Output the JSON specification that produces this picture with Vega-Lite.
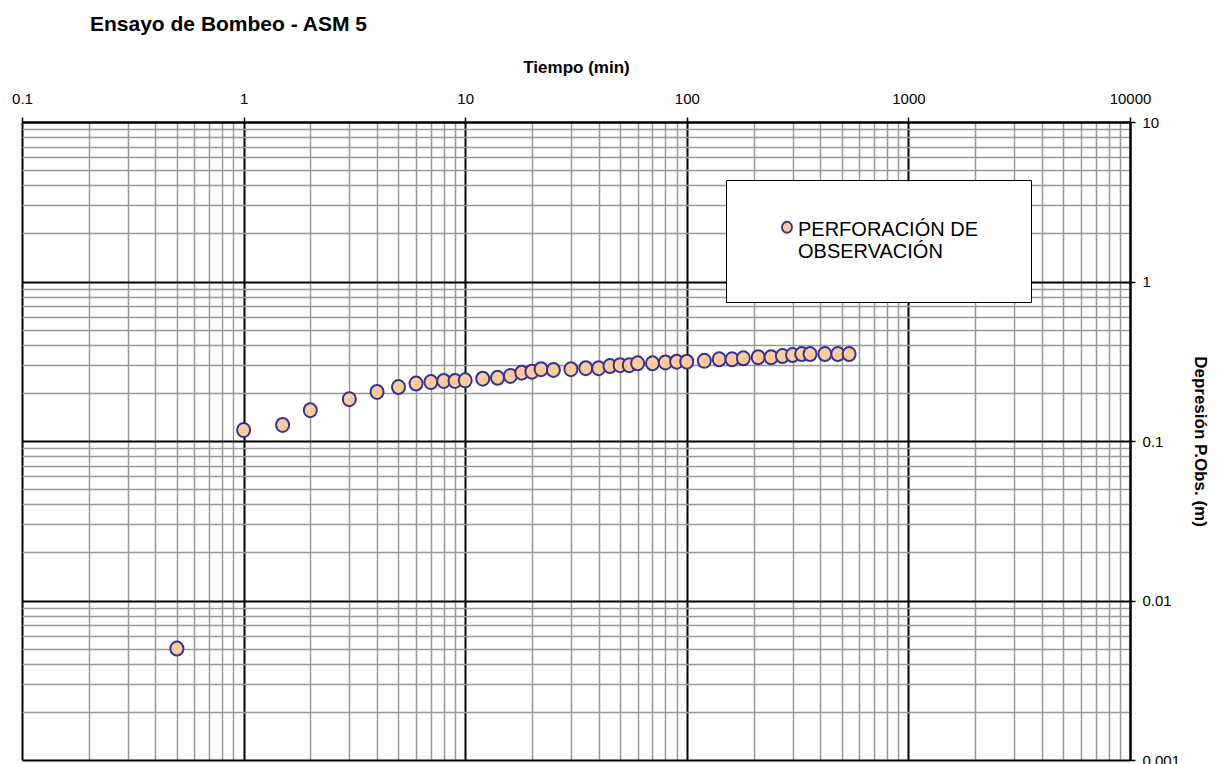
{
  "$schema": "https://vega.github.io/schema/vega-lite/v6.json",
  "autosize": "none",
  "width": 1108,
  "height": 638,
  "padding": {"left": 22, "top": 122, "right": 88, "bottom": 4},
  "background": "#ffffff",
  "config": {
    "font": "Liberation Sans",
    "view": {"stroke": null}
  },
  "title": {
    "text": "Ensayo de Bombeo - ASM 5",
    "anchor": "start",
    "frame": "group",
    "dx": 68,
    "fontSize": 21,
    "fontWeight": "bold",
    "font": "Liberation Sans",
    "color": "#000000",
    "offset": 23
  },
  "data": {
    "values": [
      {"t": 0.5, "d": 0.005, "s": "PERFORACIÓN DE OBSERVACIÓN"},
      {"t": 1, "d": 0.117, "s": "PERFORACIÓN DE OBSERVACIÓN"},
      {"t": 1.5, "d": 0.126, "s": "PERFORACIÓN DE OBSERVACIÓN"},
      {"t": 2, "d": 0.156, "s": "PERFORACIÓN DE OBSERVACIÓN"},
      {"t": 3, "d": 0.183, "s": "PERFORACIÓN DE OBSERVACIÓN"},
      {"t": 4, "d": 0.203, "s": "PERFORACIÓN DE OBSERVACIÓN"},
      {"t": 5, "d": 0.218, "s": "PERFORACIÓN DE OBSERVACIÓN"},
      {"t": 6, "d": 0.229, "s": "PERFORACIÓN DE OBSERVACIÓN"},
      {"t": 7, "d": 0.234, "s": "PERFORACIÓN DE OBSERVACIÓN"},
      {"t": 8, "d": 0.238, "s": "PERFORACIÓN DE OBSERVACIÓN"},
      {"t": 9, "d": 0.238, "s": "PERFORACIÓN DE OBSERVACIÓN"},
      {"t": 10, "d": 0.240, "s": "PERFORACIÓN DE OBSERVACIÓN"},
      {"t": 12, "d": 0.246, "s": "PERFORACIÓN DE OBSERVACIÓN"},
      {"t": 14, "d": 0.249, "s": "PERFORACIÓN DE OBSERVACIÓN"},
      {"t": 16, "d": 0.256, "s": "PERFORACIÓN DE OBSERVACIÓN"},
      {"t": 18, "d": 0.268, "s": "PERFORACIÓN DE OBSERVACIÓN"},
      {"t": 20, "d": 0.272, "s": "PERFORACIÓN DE OBSERVACIÓN"},
      {"t": 22, "d": 0.282, "s": "PERFORACIÓN DE OBSERVACIÓN"},
      {"t": 25, "d": 0.279, "s": "PERFORACIÓN DE OBSERVACIÓN"},
      {"t": 30, "d": 0.282, "s": "PERFORACIÓN DE OBSERVACIÓN"},
      {"t": 35, "d": 0.286, "s": "PERFORACIÓN DE OBSERVACIÓN"},
      {"t": 40, "d": 0.286, "s": "PERFORACIÓN DE OBSERVACIÓN"},
      {"t": 45, "d": 0.295, "s": "PERFORACIÓN DE OBSERVACIÓN"},
      {"t": 50, "d": 0.299, "s": "PERFORACIÓN DE OBSERVACIÓN"},
      {"t": 55, "d": 0.299, "s": "PERFORACIÓN DE OBSERVACIÓN"},
      {"t": 60, "d": 0.307, "s": "PERFORACIÓN DE OBSERVACIÓN"},
      {"t": 70, "d": 0.307, "s": "PERFORACIÓN DE OBSERVACIÓN"},
      {"t": 80, "d": 0.311, "s": "PERFORACIÓN DE OBSERVACIÓN"},
      {"t": 90, "d": 0.314, "s": "PERFORACIÓN DE OBSERVACIÓN"},
      {"t": 100, "d": 0.314, "s": "PERFORACIÓN DE OBSERVACIÓN"},
      {"t": 120, "d": 0.318, "s": "PERFORACIÓN DE OBSERVACIÓN"},
      {"t": 140, "d": 0.325, "s": "PERFORACIÓN DE OBSERVACIÓN"},
      {"t": 160, "d": 0.325, "s": "PERFORACIÓN DE OBSERVACIÓN"},
      {"t": 180, "d": 0.330, "s": "PERFORACIÓN DE OBSERVACIÓN"},
      {"t": 210, "d": 0.335, "s": "PERFORACIÓN DE OBSERVACIÓN"},
      {"t": 240, "d": 0.335, "s": "PERFORACIÓN DE OBSERVACIÓN"},
      {"t": 270, "d": 0.341, "s": "PERFORACIÓN DE OBSERVACIÓN"},
      {"t": 300, "d": 0.346, "s": "PERFORACIÓN DE OBSERVACIÓN"},
      {"t": 330, "d": 0.351, "s": "PERFORACIÓN DE OBSERVACIÓN"},
      {"t": 360, "d": 0.351, "s": "PERFORACIÓN DE OBSERVACIÓN"},
      {"t": 420, "d": 0.351, "s": "PERFORACIÓN DE OBSERVACIÓN"},
      {"t": 480, "d": 0.351, "s": "PERFORACIÓN DE OBSERVACIÓN"},
      {"t": 540, "d": 0.351, "s": "PERFORACIÓN DE OBSERVACIÓN"}
    ]
  },
  "mark": {
    "type": "point",
    "filled": true,
    "shape": "M-0.93,0A0.93,1 0 1,0 0.93,0A0.93,1 0 1,0 -0.93,0Z",
    "size": 196,
    "stroke": "#333399",
    "strokeWidth": 2,
    "opacity": 1,
    "fillOpacity": 1
  },
  "encoding": {
    "x": {
      "field": "t",
      "type": "quantitative",
      "scale": {"type": "log", "domain": [0.1, 10000], "nice": false},
      "axis": {
        "orient": "top",
        "title": "Tiempo (min)",
        "titleFontSize": 17,
        "titleFontWeight": "bold",
        "titleColor": "#000000",
        "titlePadding": 15,
        "values": [0.1,0.2,0.3,0.4,0.5,0.6,0.7,0.8,0.9,1,2,3,4,5,6,7,8,9,10,20,30,40,50,60,70,80,90,100,200,300,400,500,600,700,800,900,1000,2000,3000,4000,5000,6000,7000,8000,9000,10000],
        "labelExpr": "abs(log(datum.value)/LN10 - round(log(datum.value)/LN10)) < 0.001 ? format(datum.value, '~g') : ''",
        "labelOverlap": false,
        "labelFlush": false,
        "labelFontSize": 15,
        "labelColor": "#000000",
        "labelPadding": 11,
        "domainColor": "#000000",
        "domainWidth": 2,
        "tickColor": "#000000",
        "tickSize": 5,
        "tickWidth": 1.5,
        "tickOpacity": {"condition": {"test": "abs(log(datum.value)/LN10 - round(log(datum.value)/LN10)) < 0.001", "value": 1}, "value": 0},
        "grid": true,
        "gridColor": {"condition": {"test": "abs(log(datum.value)/LN10 - round(log(datum.value)/LN10)) < 0.001", "value": "#000000"}, "value": "#999999"},
        "gridWidth": {"condition": {"test": "abs(log(datum.value)/LN10 - round(log(datum.value)/LN10)) < 0.001", "value": 2}, "value": 1.5},
        "gridOpacity": 1
      }
    },
    "y": {
      "field": "d",
      "type": "quantitative",
      "scale": {"type": "log", "domain": [0.001, 10], "nice": false},
      "axis": {
        "orient": "right",
        "title": "Depresión P.Obs. (m)",
        "titleFontSize": 17,
        "titleFontWeight": "bold",
        "titleColor": "#000000",
        "titlePadding": 11,
        "values": [0.001,0.002,0.003,0.004,0.005,0.006,0.007,0.008,0.009,0.01,0.02,0.03,0.04,0.05,0.06,0.07,0.08,0.09,0.1,0.2,0.3,0.4,0.5,0.6,0.7,0.8,0.9,1,2,3,4,5,6,7,8,9,10],
        "labelExpr": "abs(log(datum.value)/LN10 - round(log(datum.value)/LN10)) < 0.001 ? format(datum.value, '~g') : ''",
        "labelOverlap": false,
        "labelFlush": false,
        "labelFontSize": 15,
        "labelColor": "#000000",
        "labelPadding": 7,
        "domainColor": "#000000",
        "domainWidth": 2,
        "tickColor": "#000000",
        "tickSize": 5,
        "tickWidth": 1.5,
        "tickOpacity": {"condition": {"test": "abs(log(datum.value)/LN10 - round(log(datum.value)/LN10)) < 0.001", "value": 1}, "value": 0},
        "grid": true,
        "gridColor": {"condition": {"test": "abs(log(datum.value)/LN10 - round(log(datum.value)/LN10)) < 0.001", "value": "#000000"}, "value": "#999999"},
        "gridWidth": {"condition": {"test": "abs(log(datum.value)/LN10 - round(log(datum.value)/LN10)) < 0.001", "value": 2}, "value": 1.5},
        "gridOpacity": 1
      }
    },
    "fill": {
      "field": "s",
      "type": "nominal",
      "scale": {"range": ["#FFCC99"]},
      "legend": {
        "title": ".",
        "titleOrient": "right",
        "titleColor": "#ffffff",
        "titleFontSize": 6,
        "titlePadding": 11,
        "orient": "none",
        "legendX": 704,
        "legendY": 58,
        "padding": 40,
        "symbolOffset": 11,
        "fillColor": "#ffffff",
        "strokeColor": "#000000",
        "symbolType": "M-1,-0.55A1,1.1 0 1,0 1,-0.55A1,1.1 0 1,0 -1,-0.55Z",
        "symbolSize": 100,
        "symbolStrokeColor": "#333399",
        "symbolStrokeWidth": 1.8,
        "symbolFillColor": "#FFCC99",
        "labelFontSize": 20,
        "labelLineHeight": 24,
        "labelColor": "#000000",
        "labelLimit": 400,
        "labelOffset": 1,
        "labelExpr": "['PERFORACIÓN DE', 'OBSERVACIÓN']",
        "labelBaseline": "middle"
      }
    }
  }
}
